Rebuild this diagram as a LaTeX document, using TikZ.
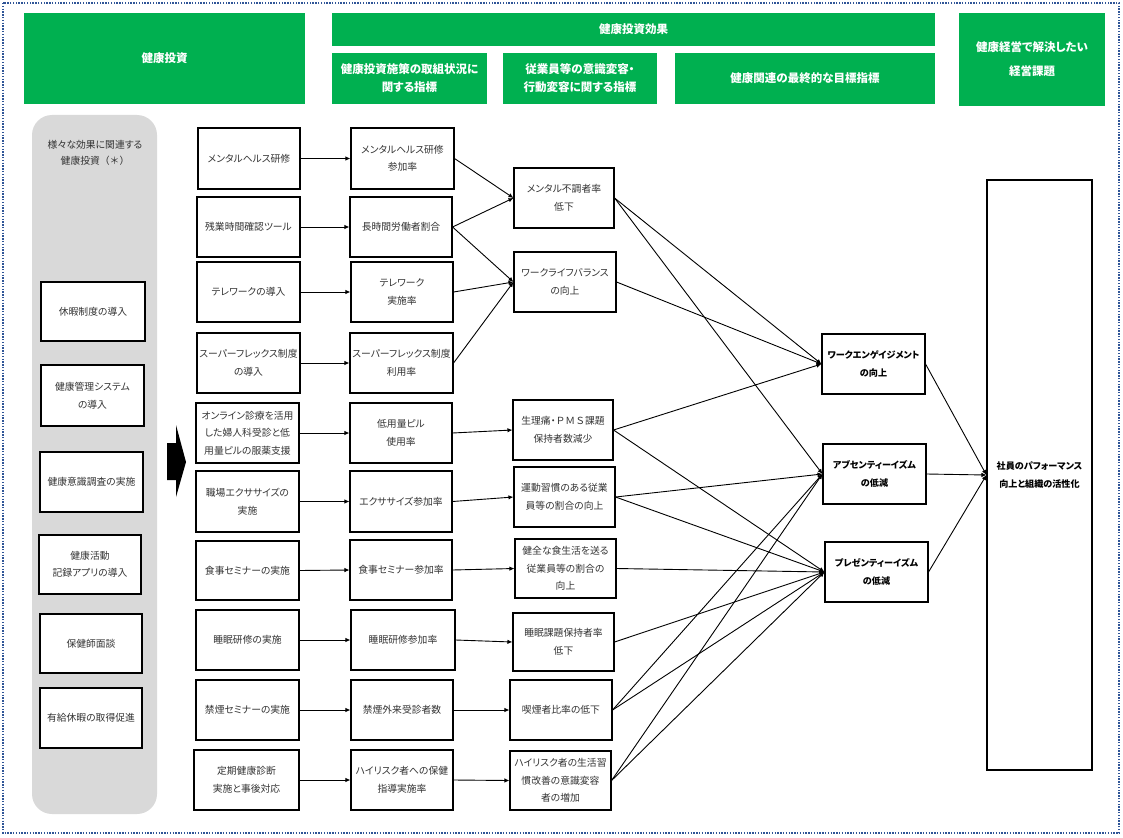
\documentclass[tikz,border=0pt]{standalone}
\usepackage{fontspec}
\setmainfont{Noto Sans CJK JP}[RawFeature=+palt]
\newfontfamily\jpfull{Noto Sans CJK JP}
\usetikzlibrary{arrows.meta}
\definecolor{hgreen}{HTML}{00B050}
\definecolor{panelgray}{HTML}{D9D9D9}
\definecolor{btxt}{HTML}{333333}
\definecolor{framecol}{HTML}{2F5597}
\newcommand\bx[7][box]{\node[#1, minimum width={(#5-#3)*1pt}, minimum height={(#6-#4)*1pt}] (#2) at ({(#3+#5)/2},{(#4+#6)/2}) {#7};}
\tikzset{
  box/.style={draw=black, line width=1.1pt, fill=white, inner sep=0pt, align=center, text=btxt, font=\fontsize{9.8}{17.5}\selectfont},
  bbox/.style={box, text=black, font=\bfseries\fontsize{9.1}{17.5}\selectfont},
  hdr/.style={fill=hgreen, draw=none, inner sep=0pt, align=center, text=white, font=\bfseries\fontsize{11.5}{18}\selectfont},
  hdrb/.style={hdr, font=\bfseries\fontsize{11.5}{24}\selectfont},
  arr/.style={-{Latex[length=5pt,width=4.5pt]}, line width=0.9pt, draw=black},
  ln/.style={line width=0.9pt, draw=black}
}
\begin{document}
\begin{tikzpicture}[x=1pt,y=-1pt]
\useasboundingbox (0,0) rectangle (1123,837);
\draw[framecol, line width=1.4pt, dash pattern=on 1.4pt off 1.4pt] (3,3) rectangle (1119,833);
% headers
\bx[hdr]{h1}{24}{13}{305}{104}{健康投資}
\bx[hdr]{h2}{332}{13}{935}{46}{健康投資効果}
\bx[hdr]{h3}{332}{53}{487}{104}{健康投資施策の取組状況に\\関する指標}
\bx[hdr]{h4}{503}{53}{657}{104}{従業員等の意識変容・\\行動変容に関する指標}
\bx[hdr]{h5}{675}{53}{935}{104}{健康関連の最終的な目標指標}
\bx[hdrb]{h6}{959}{13}{1105}{106}{健康経営で解決したい\\経営課題}
% gray panel
\fill[panelgray, rounded corners=20pt] (32,115) rectangle (157,814);
\node[align=center, text=btxt, font=\fontsize{9.8}{16}\selectfont] (pt) at (95,153) {様々な効果に関連する\\健康投資{\jpfull （＊）}};
\bx{p1}{41}{282}{145}{341}{休暇制度の導入}
\bx{p2}{41}{365}{144}{426}{健康管理システム\\の導入}
\bx{p3}{40}{452}{143}{512}{健康意識調査の実施}
\bx{p4}{39}{535}{141}{594}{健康活動\\記録アプリの導入}
\bx{p5}{40}{614}{142}{673}{保健師面談}
\bx{p6}{40}{688}{142}{748}{有給休暇の取得促進}
% big arrow
\fill[black] (167,443) -- (176,443) -- (176,425) -- (186,462) -- (176,497) -- (176,480) -- (167,480) -- cycle;
% column 1
\bx{a1}{198}{128}{300}{189}{メンタルヘルス研修}
\bx{a2}{197}{197}{300}{257}{残業時間確認ツール}
\bx{a3}{197}{262}{300}{322}{テレワークの導入}
\bx{a4}{197}{333}{300}{393}{スーパーフレックス制度\\の導入}
\bx{a5}{196}{403}{299}{463}{オンライン診療を活用\\した婦人科受診と低\\用量ピルの服薬支援}
\bx{a6}{196}{471}{299}{532}{職場エクササイズの\\実施}
\bx{a7}{196}{541}{299}{600}{食事セミナーの実施}
\bx{a8}{196}{610}{299}{670}{睡眠研修の実施}
\bx{a9}{196}{680}{299}{740}{禁煙セミナーの実施}
\bx{a10}{194}{750}{299}{810}{定期健康診断\\実施と事後対応}
% column 2
\bx{b1}{351}{128}{454}{189}{メンタルヘルス研修\\参加率}
\bx{b2}{350}{197}{452}{257}{長時間労働者割合}
\bx{b3}{351}{262}{453}{322}{テレワーク\\実施率}
\bx{b4}{350}{333}{453}{393}{スーパーフレックス制度\\利用率}
\bx{b5}{350}{403}{452}{463}{低用量ピル\\使用率}
\bx{b6}{350}{471}{452}{532}{エクササイズ参加率}
\bx{b7}{350}{540}{452}{600}{食事セミナー参加率}
\bx{b8}{351}{610}{455}{670}{睡眠研修参加率}
\bx{b9}{351}{680}{453}{740}{禁煙外来受診者数}
\bx{b10}{351}{750}{453}{810}{ハイリスク者への保健\\指導実施率}
% column 3
\bx{m1}{514}{168}{614}{228}{メンタル不調者率\\低下}
\bx{m2}{514}{252}{616}{312}{ワークライフバランス\\の向上}
\bx{m3}{513}{400}{613}{460}{生理痛・{\jpfull ＰＭＳ}課題\\保持者数減少}
\bx{m4}{514}{467}{615}{527}{運動習慣のある従業\\員等の割合の向上}
\bx{m5}{515}{539}{616}{598}{健全な食生活を送る\\従業員等の割合の\\向上}
\bx{m6}{513}{613}{614}{671}{睡眠課題保持者率\\低下}
\bx{m7}{510}{680}{612}{740}{喫煙者比率の低下}
\bx{m8}{510}{751}{611}{810}{ハイリスク者の生活習\\慣改善の意識変容\\者の増加}
% column 4
\bx[bbox]{we}{822}{334}{925}{394}{ワークエンゲイジメント\\の向上}
\bx[bbox]{ab}{823}{444}{926}{504}{アブセンティーイズム\\の低減}
\bx[bbox]{pr}{825}{542}{928}{602}{プレゼンティーイズム\\の低減}
\bx[bbox]{fin}{987}{180}{1092}{770}{社員のパフォーマンス\\向上と組織の活性化}
% connectors col1 -> col2
\foreach \i in {1,...,10} {\draw[arr] (a\i.east) -- (b\i.west);}
% col2 -> col3
\draw[arr] (b1.east) -- (m1.west);
\draw[arr] (b2.east) -- (m1.west);
\draw[arr] (b2.east) -- (m2.west);
\draw[arr] (b3.east) -- (m2.west);
\draw[arr] (b4.east) -- (m2.west);
\draw[arr] (b5.east) -- (m3.west);
\draw[arr] (b6.east) -- (m4.west);
\draw[arr] (b7.east) -- (m5.west);
\draw[arr] (b8.east) -- (m6.west);
\draw[arr] (b9.east) -- (m7.west);
\draw[arr] (b10.east) -- (m8.west);
% col3 -> col4
\draw[arr] (m1.east) -- (we.west);
\draw[arr] (m2.east) -- (we.west);
\draw[arr] (m3.east) -- (we.west);
\draw[arr] (m1.east) -- (ab.west);
\draw[arr] (m4.east) -- (ab.west);
\draw[arr] (m7.east) -- (ab.west);
\draw[arr] (m8.east) -- (ab.west);
\draw[arr] (m3.east) -- (pr.west);
\draw[arr] (m4.east) -- (pr.west);
\draw[arr] (m5.east) -- (pr.west);
\draw[arr] (m6.east) -- (pr.west);
\draw[arr] (m7.east) -- (pr.west);
\draw[arr] (m8.east) -- (pr.west);
% col4 -> final
\draw[arr] (we.east) -- (fin.west);
\draw[arr] (ab.east) -- (fin.west);
\draw[arr] (pr.east) -- (fin.west);
\end{tikzpicture}
\end{document}
